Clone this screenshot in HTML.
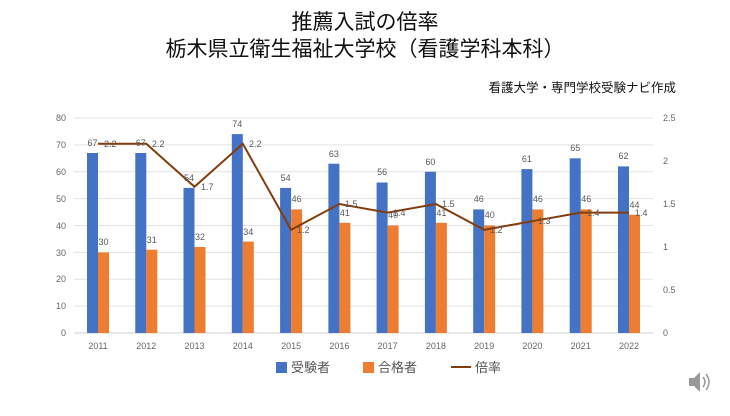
<!DOCTYPE html><html><head><meta charset="utf-8"><style>
body{margin:0;background:#fff;width:730px;height:411px;overflow:hidden}
svg{font-family:"Liberation Sans","Noto Sans CJK JP",sans-serif}
</style></head><body>
<svg width="730" height="411" viewBox="0 0 730 411">
<text x="365" y="29" font-size="21" text-anchor="middle" fill="#111">推薦入試の倍率</text>
<text x="365" y="56" font-size="21" text-anchor="middle" fill="#111">栃木県立衛生福祉大学校（看護学科本科）</text>
<text x="676" y="92" font-size="12.5" text-anchor="end" fill="#111">看護大学・専門学校受験ナビ作成</text>
<g stroke="#e3e3e3" stroke-width="1">
<line x1="74" x2="653" y1="118" y2="118"/><line x1="74" x2="653" y1="144.9" y2="144.9"/><line x1="74" x2="653" y1="171.75" y2="171.75"/><line x1="74" x2="653" y1="198.6" y2="198.6"/><line x1="74" x2="653" y1="225.5" y2="225.5"/><line x1="74" x2="653" y1="252.4" y2="252.4"/><line x1="74" x2="653" y1="279.25" y2="279.25"/><line x1="74" x2="653" y1="306.1" y2="306.1"/><line x1="74" x2="653" y1="333" y2="333" stroke="#d0d0d0"/>
</g>
<g font-size="9" fill="#666" text-anchor="end">
<text x="66" y="121">80</text><text x="66" y="148">70</text><text x="66" y="175">60</text><text x="66" y="202">50</text><text x="66" y="229">40</text><text x="66" y="256">30</text><text x="66" y="282">20</text><text x="66" y="309">10</text><text x="66" y="336">0</text>
</g>
<g font-size="9" fill="#666">
<text x="663" y="121">2.5</text><text x="663" y="164">2</text><text x="663" y="207">1.5</text><text x="663" y="250">1</text><text x="663" y="293">0.5</text><text x="663" y="336">0</text>
</g>
<g font-size="9" fill="#666" text-anchor="middle">
<text x="98" y="349">2011</text><text x="146.3" y="349">2012</text><text x="194.5" y="349">2013</text><text x="242.8" y="349">2014</text><text x="291.1" y="349">2015</text><text x="339.4" y="349">2016</text><text x="387.6" y="349">2017</text><text x="435.9" y="349">2018</text><text x="484.2" y="349">2019</text><text x="532.4" y="349">2020</text><text x="580.7" y="349">2021</text><text x="629" y="349">2022</text>
</g>
<g fill="#4472c4">
<rect x="87" y="153" width="11" height="180"/><rect x="135.3" y="153" width="11" height="180"/><rect x="183.5" y="187.9" width="11" height="145.1"/><rect x="231.8" y="134.1" width="11" height="198.9"/><rect x="280.1" y="187.9" width="11" height="145.1"/><rect x="328.4" y="163.7" width="11" height="169.3"/><rect x="376.6" y="182.5" width="11" height="150.5"/><rect x="424.9" y="171.75" width="11" height="161.25"/><rect x="473.2" y="209.4" width="11" height="123.6"/><rect x="521.4" y="169.1" width="11" height="163.9"/><rect x="569.7" y="158.3" width="11" height="174.7"/><rect x="618" y="166.4" width="11" height="166.6"/>
</g>
<g fill="#ed7d31">
<rect x="98" y="252.4" width="11" height="80.6"/><rect x="146.3" y="249.7" width="11" height="83.3"/><rect x="194.5" y="247" width="11" height="86"/><rect x="242.8" y="241.6" width="11" height="91.4"/><rect x="291.1" y="209.4" width="11" height="123.6"/><rect x="339.4" y="222.8" width="11" height="110.2"/><rect x="387.6" y="225.5" width="11" height="107.5"/><rect x="435.9" y="222.8" width="11" height="110.2"/><rect x="484.2" y="225.5" width="11" height="107.5"/><rect x="532.4" y="209.4" width="11" height="123.6"/><rect x="580.7" y="209.4" width="11" height="123.6"/><rect x="629" y="214.75" width="11" height="118.25"/>
</g>
<polyline fill="none" stroke="#843c0c" stroke-width="2" points="98,143.8 146.3,143.8 194.5,186.8 242.8,143.8 291.1,229.8 339.4,204 387.6,212.6 435.9,204 484.2,229.8 532.4,221.2 580.7,212.6 629,212.6"/>
<g font-size="9" fill="#595959" text-anchor="middle">
<text x="92.5" y="146">67</text><text x="140.8" y="146">67</text><text x="189" y="181">54</text><text x="237.3" y="127">74</text><text x="285.6" y="181">54</text><text x="333.9" y="157">63</text><text x="382.1" y="175">56</text><text x="430.4" y="165">60</text><text x="478.7" y="202">46</text><text x="526.9" y="162">61</text><text x="575.2" y="151">65</text><text x="623.5" y="159">62</text>
<text x="103.5" y="245">30</text><text x="151.8" y="243">31</text><text x="200" y="240">32</text><text x="248.3" y="235">34</text><text x="296.6" y="202">46</text><text x="344.9" y="216">41</text><text x="393.1" y="218">40</text><text x="441.4" y="216">41</text><text x="489.7" y="218">40</text><text x="537.9" y="202">46</text><text x="586.2" y="202">46</text><text x="634.5" y="208">44</text>
</g>
<g font-size="9" fill="#595959">
<text x="104" y="147">2.2</text><text x="152" y="147">2.2</text><text x="201" y="190">1.7</text><text x="249" y="147">2.2</text><text x="297" y="233">1.2</text><text x="345" y="207">1.5</text><text x="393" y="216">1.4</text><text x="442" y="207">1.5</text><text x="490" y="233">1.2</text><text x="538" y="224">1.3</text><text x="587" y="216">1.4</text><text x="635" y="216">1.4</text>
</g>
<rect x="276" y="362" width="11" height="11" fill="#4472c4"/><text x="291" y="372" font-size="13" fill="#555">受験者</text>
<rect x="363" y="362" width="11" height="11" fill="#ed7d31"/><text x="378" y="372" font-size="13" fill="#555">合格者</text>
<line x1="451" x2="471" y1="367" y2="367" stroke="#843c0c" stroke-width="2"/><text x="475" y="372" font-size="13" fill="#555">倍率</text>
<polygon points="689,378 694,378 700,372 700,392 694,386 689,386" fill="#999"/>
<path d="M703,377 Q707,382 703,387 M706,374 Q712,382 706,390" stroke="#999" stroke-width="1.5" fill="none"/>
</svg>
</body></html>
